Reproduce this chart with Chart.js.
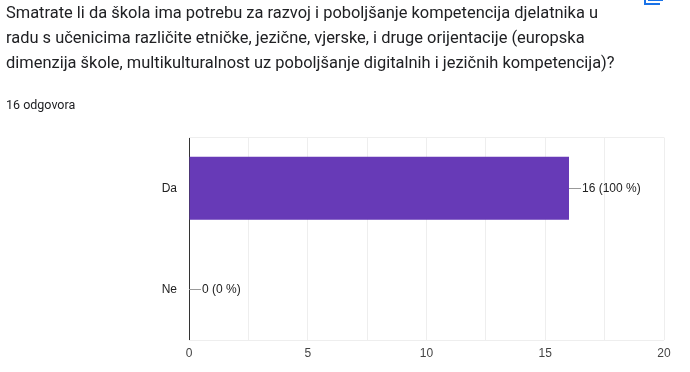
<!DOCTYPE html>
<html>
<head>
<meta charset="utf-8">
<script src="https://cdn.jsdelivr.net/npm/chart.js@4"></script>
<style>
html,body{margin:0;padding:0;background:#fff;width:690px;height:372px;overflow:hidden}
#wrap{position:relative;width:690px;height:372px}
canvas{position:absolute;left:0;top:0}
#title{position:absolute;left:6px;top:0;width:670px;font:16.45px/25px Roboto,sans-serif;color:#202124;white-space:pre-line;margin:0}
#count{position:absolute;left:6px;top:97px;font:12.5px/16px Roboto,sans-serif;color:#202124}
#icon{position:absolute;left:644px;top:-6px;width:14px;height:9px;border-left:2px solid #1a73e8;border-bottom:2px solid #1a73e8}
#icon2{position:absolute;left:648px;top:0;width:15px;height:1px;background:#1a73e8}
</style>
</head>
<body>
<div id="wrap">
<canvas id="c" width="690" height="372"></canvas>
<p id="title"></p>
<div id="count"></div>
<div id="icon"></div>
<div id="icon2"></div>
</div>
<script>
const questionLines = [
  "Smatrate li da škola ima potrebu za razvoj i poboljšanje kompetencija djelatnika u",
  "radu s učenicima različite etničke, jezične, vjerske, i druge orijentacije (europska",
  "dimenzija škole, multikulturalnost uz poboljšanje digitalnih i jezičnih kompetencija)?"
];
const responseCount = "16 odgovora";
const categories = ["Da", "Ne"];
const values = [16, 0];
const valueLabels = ["16 (100 %)", "0 (0 %)"];

document.getElementById('title').textContent = questionLines.join("\n");
document.getElementById('count').textContent = responseCount;

const leaderLabels = {
  id: 'leaderLabels',
  afterDatasetsDraw(chart) {
    const ctx = chart.ctx, x = chart.scales.x, y = chart.scales.y;
    ctx.save();
    ctx.font = '12px "Liberation Sans", Arial, sans-serif';
    ctx.textBaseline = 'middle';
    values.forEach((v, i) => {
      const px = x.getPixelForValue(v), py = Math.floor(y.getPixelForValue(i)) + 0.5;
      ctx.strokeStyle = '#999999';
      ctx.lineWidth = 1;
      ctx.beginPath(); ctx.moveTo(px, py); ctx.lineTo(px + 12, py); ctx.stroke();
      ctx.fillStyle = '#222222';
      ctx.fillText(valueLabels[i], px + 13, py);
    });
    ctx.restore();
  }
};

new Chart(document.getElementById('c'), {
  type: 'bar',
  data: { labels: categories, datasets: [{ data: values, backgroundColor: '#673ab7', barPercentage: 0.62, categoryPercentage: 1 }] },
  options: {
    indexAxis: 'y',
    responsive: false,
    animation: false,
    layout: { padding: { top: 137.5, right: 26, left: 0, bottom: 0 } },
    plugins: { legend: { display: false }, tooltip: { enabled: false } },
    scales: {
      x: {
        min: 0, max: 20,
        afterFit(s) { s.height = 31.7; },
        border: { display: false },
        grid: { drawTicks: false, lineWidth: 1, color: c => c.index === 0 ? '#333333' : '#eeeeee' },
        ticks: {
          stepSize: 2.5, autoSkip: false, maxRotation: 0, padding: 6,
          color: '#444444', font: { family: '"Liberation Sans", Arial, sans-serif', size: 12 },
          callback: v => (v % 5 === 0 ? String(v) : '')
        }
      },
      y: {
        afterFit(s) { s.width = 189; },
        border: { display: false },
        grid: { offset: true, drawTicks: false, lineWidth: 1, color: c => c.index === 1 ? 'rgba(0,0,0,0)' : '#eeeeee' },
        ticks: { padding: 12, color: '#222222', font: { family: '"Liberation Sans", Arial, sans-serif', size: 12 } }
      }
    }
  },
  plugins: [leaderLabels]
});
</script>
</body>
</html>
